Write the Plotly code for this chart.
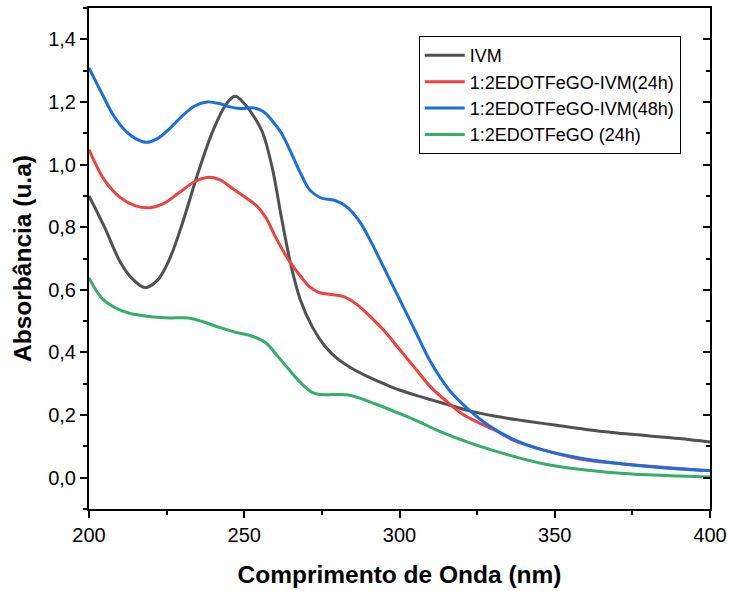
import plotly.graph_objects as go

wl_ivm = [200, 205, 210, 214, 218, 222, 226, 230, 235, 240, 244, 247, 250, 253, 256, 259, 262, 265, 268, 272, 276, 280, 285, 290, 295, 300, 307, 315, 322, 331, 340, 350, 360, 370, 380, 390, 400]
ivm = [0.90, 0.80, 0.69, 0.635, 0.607, 0.63, 0.70, 0.81, 0.97, 1.11, 1.19, 1.218, 1.195, 1.155, 1.10, 0.99, 0.83, 0.68, 0.57, 0.48, 0.42, 0.38, 0.347, 0.322, 0.30, 0.28, 0.258, 0.235, 0.215, 0.196, 0.182, 0.168, 0.154, 0.143, 0.134, 0.125, 0.114]

wl_24 = [200, 205, 210, 215, 219.5, 224, 229, 234, 238, 242, 246, 250, 254, 257, 260, 264, 268, 271, 274, 278, 282, 286, 290, 295, 300, 305, 310, 315, 320, 326, 331, 337, 345, 358, 370, 380, 390, 400]
r24 = [1.048, 0.95, 0.895, 0.868, 0.862, 0.875, 0.91, 0.945, 0.959, 0.952, 0.925, 0.898, 0.868, 0.83, 0.77, 0.70, 0.645, 0.61, 0.592, 0.585, 0.578, 0.555, 0.52, 0.47, 0.41, 0.35, 0.29, 0.245, 0.205, 0.173, 0.15, 0.118, 0.092, 0.06, 0.046, 0.037, 0.029, 0.022]

wl_48 = [200, 204, 208, 212, 215, 218.5, 222, 226, 230, 234, 238, 242, 245, 248.5, 253, 256, 259, 262, 265, 268, 271, 274.5, 279, 283, 287, 291, 295, 299, 305, 310, 316, 322, 329, 337, 345, 358, 370, 380, 390, 400]
b48 = [1.309, 1.23, 1.155, 1.105, 1.083, 1.071, 1.083, 1.115, 1.155, 1.187, 1.20, 1.195, 1.185, 1.179, 1.181, 1.17, 1.14, 1.10, 1.04, 0.975, 0.92, 0.894, 0.886, 0.865, 0.82, 0.75, 0.67, 0.59, 0.47, 0.37, 0.28, 0.22, 0.165, 0.121, 0.092, 0.063, 0.046, 0.036, 0.028, 0.023]

wl_go = [200, 204, 208, 213, 221, 226, 232, 237, 242, 247, 253, 257, 261, 264, 268, 272, 276, 280, 283, 287, 291, 295, 300, 306, 312, 318, 326, 335, 347, 358, 369, 380, 390, 400]
g24 = [0.638, 0.575, 0.545, 0.525, 0.513, 0.51, 0.51, 0.497, 0.48, 0.465, 0.45, 0.43, 0.385, 0.35, 0.305, 0.272, 0.265, 0.266, 0.265, 0.255, 0.24, 0.225, 0.205, 0.18, 0.152, 0.128, 0.1, 0.073, 0.043, 0.027, 0.016, 0.009, 0.005, 0.002]

series = [
    ("IVM", wl_ivm, ivm, "#515151"),
    ("1:2EDOTFeGO-IVM(24h)", wl_24, r24, "#F14040"),
    ("1:2EDOTFeGO-IVM(48h)", wl_48, b48, "#1A6FDF"),
    ("1:2EDOTFeGO (24h)", wl_go, g24, "#37AD6B"),
]

fig = go.Figure()
for name, x, y, c in series:
    fig.add_trace(go.Scatter(x=x, y=y, mode="lines", name=name,
                             line=dict(color=c, width=3, shape="spline", smoothing=1.0)))

# invisible trace for the right axis
fig.add_trace(go.Scatter(x=[200], y=[0], yaxis="y2", mode="lines", showlegend=False,
                         hoverinfo="skip", line=dict(width=0)))

font = "Liberation Sans, Arial, sans-serif"
fig.update_layout(
    width=729, height=591,
    margin=dict(l=89, r=19, t=8, b=82),
    paper_bgcolor="white", plot_bgcolor="white",
    separators=",.",
    font=dict(family=font, color="black", size=20),
    xaxis=dict(range=[200, 400], tick0=200, dtick=50, showgrid=False, zeroline=False,
               showline=True, linecolor="black", linewidth=2, mirror=True,
               ticks="outside", ticklen=7, tickwidth=2, tickcolor="black",
               minor=dict(ticks="outside", ticklen=4, tickwidth=2, tickcolor="black", dtick=25, showgrid=False),
               tickfont=dict(size=20), automargin=False,
               title=dict(text="<b>Comprimento de Onda (nm)</b>", font=dict(size=24.5), standoff=21)),
    yaxis=dict(range=[-0.1, 1.5], tick0=0, dtick=0.2, tickformat=".1f", showgrid=False, zeroline=False,
               showline=True, linecolor="black", linewidth=2, mirror=True,
               ticks="outside", ticklen=7, tickwidth=2, tickcolor="black",
               minor=dict(ticks="outside", ticklen=4, tickwidth=2, tickcolor="black", dtick=0.1, tick0=0, showgrid=False),
               tickfont=dict(size=20), automargin=False,
               title=dict(text="<b>Absorbância (u.a)</b>", font=dict(size=24.5), standoff=10)),
    yaxis2=dict(range=[-0.1, 1.5], tick0=0, dtick=0.2, overlaying="y", side="right",
                showgrid=False, zeroline=False, showline=False, showticklabels=False,
                ticks="inside", ticklen=7, tickwidth=2, tickcolor="black", automargin=False,
                minor=dict(ticks="inside", ticklen=4, tickwidth=2, tickcolor="black", dtick=0.1, tick0=0, showgrid=False)),
    legend=dict(x=0.531, y=0.944, xanchor="left", yanchor="top",
                bgcolor="white", bordercolor="black", borderwidth=1,
                font=dict(size=18), tracegroupgap=0, itemwidth=40),
    showlegend=True,
)

fig.write_html("out.html")
